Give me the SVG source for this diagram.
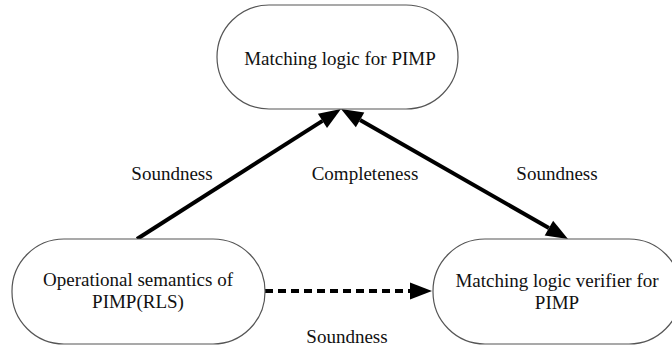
<svg xmlns="http://www.w3.org/2000/svg" width="672" height="352" viewBox="0 0 672 352">
<style>
.node{fill:#fff;stroke:#555;stroke-width:1.2}
.t{font-size:19px;fill:#111;text-anchor:middle}
.e{stroke:#000;stroke-width:4;fill:none}
.d{stroke-dasharray:8 5}
</style>
<defs>
<marker id="ah" markerUnits="userSpaceOnUse" markerWidth="24" markerHeight="20" refX="0" refY="9" orient="auto-start-reverse" overflow="visible">
<path d="M0,0.5 L22,9 L0,17.5 z" fill="#000"/>
</marker>
</defs>
<rect width="672" height="352" fill="#fff"/>
<g id="connectors">
<line class="e" x1="137" y1="239" x2="322.45" y2="120.82" marker-end="url(#ah)"/>
<line class="e" x1="360.09" y1="119.93" x2="548.91" y2="228.07" marker-start="url(#ah)" marker-end="url(#ah)"/>
<line class="e d" x1="265" y1="291" x2="410" y2="291" marker-end="url(#ah)"/>
</g>
<g id="labels" font-family="Liberation Serif, Tinos, Times New Roman, DejaVu Serif, serif">
<text class="t" x="172" y="180">Soundness</text>
<text class="t" x="365" y="180">Completeness</text>
<text class="t" x="557" y="180">Soundness</text>
<text class="t" x="347" y="343">Soundness</text>
</g>
<g id="node-top" font-family="Liberation Serif, Tinos, Times New Roman, DejaVu Serif, serif">
<rect class="node" x="217" y="5" width="241" height="104" rx="52"/>
<text class="t" x="340" y="65">Matching logic for PIMP</text>
</g>
<g id="node-left" font-family="Liberation Serif, Tinos, Times New Roman, DejaVu Serif, serif">
<rect class="node" x="12" y="239" width="253" height="105" rx="52"/>
<text class="t" x="138" y="286">Operational semantics of</text>
<text class="t" x="138" y="308">PIMP(RLS)</text>
</g>
<g id="node-right" font-family="Liberation Serif, Tinos, Times New Roman, DejaVu Serif, serif">
<rect class="node" x="433" y="239" width="248" height="105" rx="52"/>
<text class="t" x="557" y="287">Matching logic verifier for</text>
<text class="t" x="557" y="309">PIMP</text>
</g>
</svg>
